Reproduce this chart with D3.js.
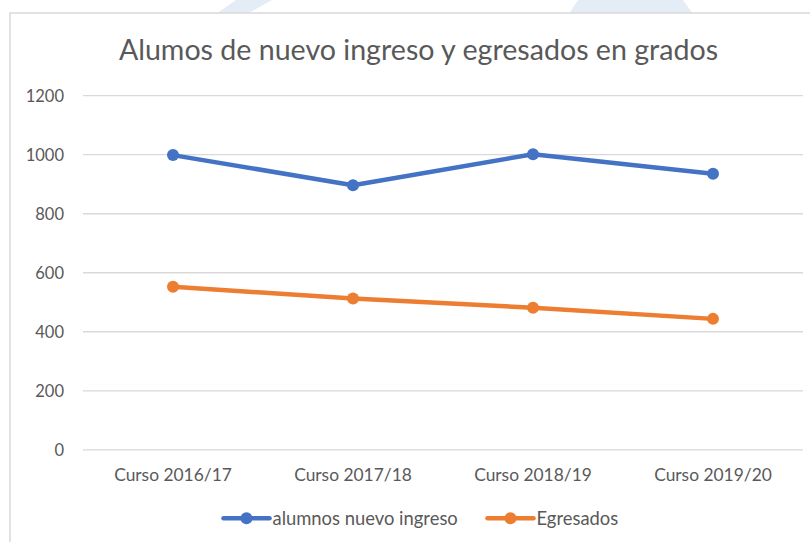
<!DOCTYPE html>
<html>
<head>
<meta charset="utf-8">
<script src="https://cdn.jsdelivr.net/npm/d3@7"></script>
<style>
  html, body { margin: 0; padding: 0; background: #ffffff; }
  svg { display: block; font-family: Lato, "Open Sans", "Noto Sans", sans-serif; }
</style>
</head>
<body>
<svg id="chart" width="810" height="542"></svg>
<script>
// ---- data ----
const categories = ["Curso 2016/17", "Curso 2017/18", "Curso 2018/19", "Curso 2019/20"];
const seriesNames = ["alumnos nuevo ingreso", "Egresados"];
const alumnosNuevoIngreso = [997, 895, 1000, 934];
const egresados = [551, 511, 480, 442];
const yTicks = [0, 200, 400, 600, 800, 1000, 1200];
const titleText = "Alumos de nuevo ingreso y egresados en grados";
const seriesColors = ["#4472C4", "#ED7D31"];

const series = [
  { name: seriesNames[0], values: alumnosNuevoIngreso, color: seriesColors[0] },
  { name: seriesNames[1], values: egresados, color: seriesColors[1] }
];

const svg = d3.select("#chart");
const W = 810, H = 542;
const textColor = "#595959";
const gridColor = "#d9d9d9";

svg.append("rect").attr("width", W).attr("height", H).attr("fill", "#ffffff");

// faint background shapes peeking above the chart frame
const wm = svg.append("g").attr("fill", "#e4ecf5");
wm.append("path").attr("d", "M236,0 L272,0 L247,14 L216,14 Z");
wm.append("path").attr("d", "M578,0 L683,0 L693,14 L569,14 Z");

// chart frame
svg.append("rect")
  .attr("x", 10).attr("y", 13)
  .attr("width", W + 20).attr("height", H + 20)
  .attr("fill", "#ffffff")
  .attr("stroke", gridColor).attr("stroke-width", 1.5);

// ---- scales ----
const plotLeft = 83, plotRight = 803, plotTop = 95.2, plotBottom = 449.3;
const x = d3.scaleBand().domain(categories).range([plotLeft, plotRight]).padding(0);
const cx = c => x(c) + x.bandwidth() / 2;
const y = d3.scaleLinear().domain([0, 1200]).range([plotBottom, plotTop]);

// gridlines
const grid = svg.append("g")
  .attr("transform", `translate(${plotLeft},0)`)
  .call(d3.axisLeft(y).tickValues(yTicks).tickSize(-(plotRight - plotLeft)).tickFormat(""));
grid.select(".domain").remove();
grid.selectAll("line").attr("stroke", gridColor).attr("stroke-width", 1.3);

// y axis labels
const yAxis = svg.append("g")
  .attr("transform", `translate(64,0)`)
  .call(d3.axisLeft(y).tickValues(yTicks).tickSize(0).tickPadding(0).tickFormat(d3.format("d")));
yAxis.select(".domain").remove();
yAxis.selectAll("text")
  .attr("fill", textColor)
  .style("font-size", "16.5px")
  .style("font-family", "Lato, 'Open Sans', sans-serif")
  .attr("dy", "0.36em");

// x axis labels
const xAxis = svg.append("g")
  .attr("transform", `translate(0,${plotBottom})`)
  .call(d3.axisBottom(x).tickSize(0).tickPadding(0));
xAxis.select(".domain").remove();
xAxis.selectAll("text")
  .attr("fill", textColor)
  .style("font-size", "17.4px")
  .style("font-family", "Lato, 'Open Sans', sans-serif")
  .attr("dy", null)
  .attr("y", 31.4);

// title
svg.append("text")
  .attr("x", 418.5).attr("y", 59.5)
  .attr("text-anchor", "middle")
  .attr("fill", textColor)
  .style("font-size", "28.6px")
  .text(titleText);

// lines & markers
const line = d3.line()
  .x((d, i) => cx(categories[i]))
  .y(d => y(d));

series.forEach(s => {
  svg.append("path")
    .datum(s.values)
    .attr("d", line)
    .attr("fill", "none")
    .attr("stroke", s.color)
    .attr("stroke-width", 4.5)
    .attr("stroke-linejoin", "round")
    .attr("stroke-linecap", "round");
  svg.append("g").selectAll("circle")
    .data(s.values)
    .join("circle")
    .attr("cx", (d, i) => cx(categories[i]))
    .attr("cy", d => y(d))
    .attr("r", 6)
    .attr("fill", s.color);
});

// legend
const legendItems = [
  { s: series[0], x0: 223.5 },
  { s: series[1], x0: 487.5 }
];
const legY = 518.3;
legendItems.forEach(li => {
  const g = svg.append("g");
  g.append("line")
    .attr("x1", li.x0).attr("x2", li.x0 + 46)
    .attr("y1", legY).attr("y2", legY)
    .attr("stroke", li.s.color).attr("stroke-width", 4.5).attr("stroke-linecap", "round");
  g.append("circle")
    .attr("cx", li.x0 + 23).attr("cy", legY).attr("r", 6)
    .attr("fill", li.s.color);
  g.append("text")
    .attr("x", li.x0 + 49).attr("y", 524.5)
    .attr("fill", textColor)
    .style("font-size", "18.4px")
    .text(li.s.name);
});
</script>
</body>
</html>
